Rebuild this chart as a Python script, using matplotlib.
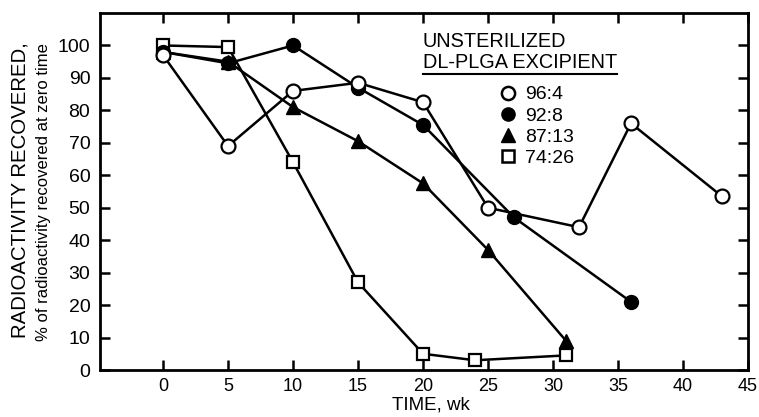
import matplotlib
matplotlib.use("Agg")
import matplotlib.pyplot as plt
from matplotlib.lines import Line2D

plt.rcParams['font.family'] = ['Liberation Sans', 'DejaVu Sans']

# recovered radioactivity (% of zero-time value) for each copolymer ratio
wk_96_4 = [0, 5, 10, 15, 20, 25, 32, 36, 43]
pct_96_4 = [97, 69, 86, 88.5, 82.5, 50, 44, 76, 53.5]

wk_92_8 = [0, 5, 10, 15, 20, 27, 36]
pct_92_8 = [98, 94.5, 100, 87, 75.5, 47, 21]

wk_87_13 = [0, 5, 10, 15, 20, 25, 31]
pct_87_13 = [98, 95, 81, 70.5, 57.5, 37, 9]

wk_74_26 = [0, 5, 10, 15, 20, 24, 31]
pct_74_26 = [100, 99.5, 64, 27, 5, 3, 4.5]

series_labels = ['96:4', '92:8', '87:13', '74:26']
x_ticks = [0, 5, 10, 15, 20, 25, 30, 35, 40, 45]
y_ticks = [0, 10, 20, 30, 40, 50, 60, 70, 80, 90, 100]

fig = plt.figure(figsize=(7.59, 4.17), dpi=100)
ax = fig.add_axes([0.1318, 0.1127, 0.8537, 0.8561])

lw = 1.8
ax.plot(wk_74_26, pct_74_26, color='black', lw=lw, marker='s', ms=8.5,
        mfc='white', mec='black', mew=1.6, zorder=3)
ax.plot(wk_87_13, pct_87_13, color='black', lw=lw, marker='^', ms=9.5,
        mfc='black', mec='black', zorder=4)
ax.plot(wk_92_8, pct_92_8, color='black', lw=lw, marker='o', ms=10,
        mfc='black', mec='black', zorder=5)
ax.plot(wk_96_4, pct_96_4, color='black', lw=lw, marker='o', ms=10,
        mfc='white', mec='black', mew=1.6, zorder=6)

ax.set_xlim(-4.85, 45)
ax.set_ylim(0, 110)
ax.set_xticks(x_ticks)
ax.set_yticks(y_ticks)
ax.tick_params(axis='both', direction='in', length=7, width=1.8,
               top=True, right=True, labelright=False, labeltop=False)
ax.tick_params(axis='x', pad=6, labelsize=13)
ax.tick_params(axis='y', pad=7, labelsize=14)
for s in ax.spines.values():
    s.set_linewidth(2)

fig.text(0.027, 0.545, 'RADIOACTIVITY RECOVERED,', rotation=90,
         ha='center', va='center', fontsize=14.7)
fig.text(0.057, 0.54, '% of radioactivity recovered at zero time', rotation=90,
         ha='center', va='center', fontsize=12)
fig.text(0.568, 0.029, 'TIME, wk', ha='center', va='center', fontsize=13.5)

# legend header with underlined second line
ax.text(0.498, 0.919, 'UNSTERILIZED', transform=ax.transAxes, fontsize=14.3,
        ha='left', va='center')
hdr = ax.text(0.498, 0.861, 'DL-PLGA EXCIPIENT', transform=ax.transAxes,
              fontsize=14.3, ha='left', va='center')
fig.canvas.draw()
bb = hdr.get_window_extent().transformed(ax.transAxes.inverted())
ax.plot([bb.x0, bb.x1], [bb.y0 - 0.006, bb.y0 - 0.006], color='black',
        lw=1.5, transform=ax.transAxes, clip_on=False)

handles = [
    Line2D([], [], ls='none', marker='o', ms=9.5, mfc='white', mec='black', mew=1.8),
    Line2D([], [], ls='none', marker='o', ms=9.5, mfc='black', mec='black'),
    Line2D([], [], ls='none', marker='^', ms=9.5, mfc='black', mec='black'),
    Line2D([], [], ls='none', marker='s', ms=8.5, mfc='white', mec='black', mew=1.8),
]
ax.legend(handles, series_labels, loc='upper left', bbox_to_anchor=(0.594, 0.834),
          frameon=False, fontsize=14, handlelength=1.0, handletextpad=0.35,
          labelspacing=0.18, borderpad=0.2)

fig.savefig('out.png', dpi=100)
